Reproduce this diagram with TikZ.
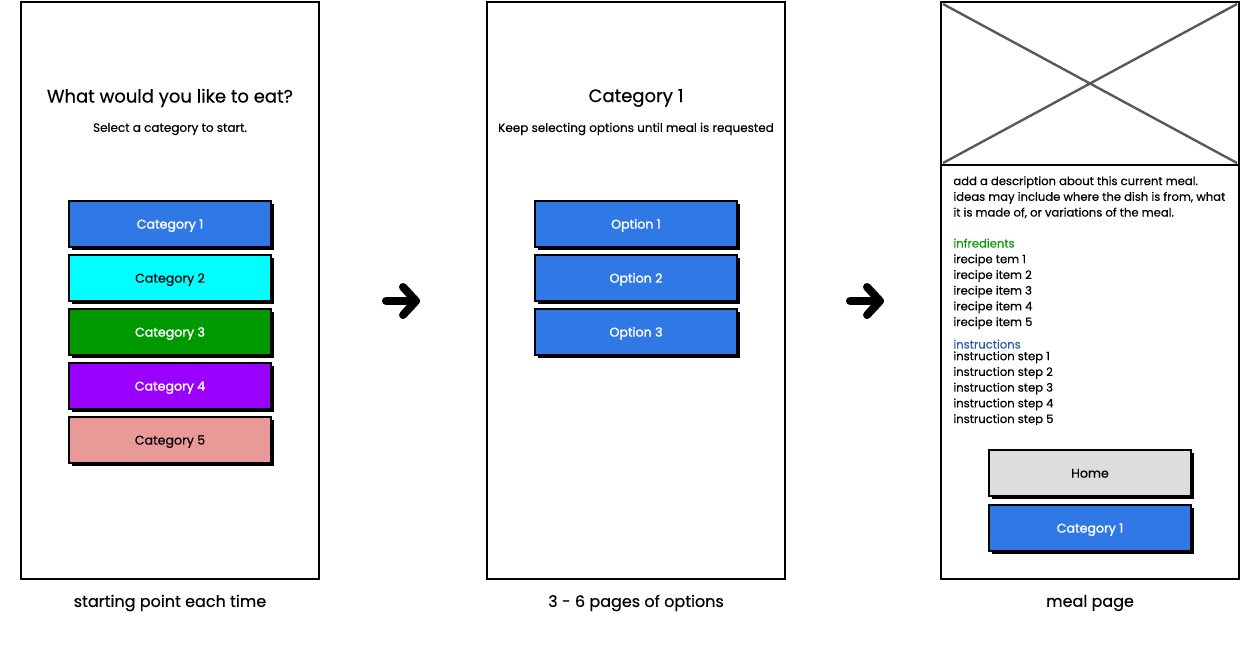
\documentclass[tikz,border=0pt]{standalone}
\usepackage{fontspec}
\setmainfont{Poppins}[FakeBold=0.4]
\usetikzlibrary{positioning,shadows,arrows.meta}
\definecolor{btnblue}{HTML}{2F78E5}
\definecolor{btncyan}{HTML}{00FFFF}
\definecolor{btngreen}{HTML}{009900}
\definecolor{btnpurple}{HTML}{9900FF}
\definecolor{btnpink}{HTML}{EA9999}
\definecolor{btngray}{HTML}{DDDDDD}
\definecolor{xgray}{HTML}{595959}
\definecolor{ingreen}{HTML}{0A9A0A}
\definecolor{inblue}{HTML}{2A5BA8}
\tikzset{
  screen/.style={draw,line width=1pt,minimum width=149pt,minimum height=288.5pt,inner sep=0pt},
  button/.style={draw,line width=0.9pt,minimum width=101pt,minimum height=23pt,inner sep=0pt,
    font=\fontsize{6.3}{8}\selectfont,text height=4.6pt,text depth=0pt,
    drop shadow={shadow xshift=1.6pt,shadow yshift=-1.6pt,opacity=1,fill=black}},
  lightbutton/.style={button,text=white,font=\fontsize{6.3}{8}\selectfont\addfontfeatures{FakeBold=1.6}},
  headline/.style={font=\fontsize{9}{11}\selectfont},
  subline/.style={font=\fontsize{6}{7}\selectfont},
  caption/.style={font=\fontsize{8}{10}\selectfont},
  body/.style={font=\fontsize{5.8}{7.85}\selectfont,align=left,anchor=base west,inner sep=0pt},
  chevron/.style={line width=4pt,line cap=round,line join=round}
}
\begin{document}
\begin{tikzpicture}[x=0.5pt,y=-0.5pt]
\useasboundingbox (0,0) rectangle (1240,669);
% three screens
\node[screen] (start) at (170,290.5) {};
\node[screen] (options) at (636,290.5) {};
\node[screen] (meal) at (1090,290.5) {};
\node[caption] (startcap) at (170,603) {starting point each time};
\node[caption] (optionscap) at (636,603) {3 - 6 pages of options};
\node[caption] (mealcap) at (1090,603) {meal page};
% start screen
\node[headline] (starttitle) at (170,98) {What would you like to eat?};
\node[subline] (startsub) at (170,129) {Select a category to start.};
\foreach \i/\col/\look in {1/btnblue/lightbutton,2/btncyan/button,3/btngreen/lightbutton,4/btnpurple/lightbutton,5/btnpink/button}
  \node[\look,fill=\col] (cat\i) at (170,{224+54*(\i-1)}) {Category \i};
% options screen
\node[headline] (optionstitle) at (636,98) {Category 1};
\node[subline] (optionssub) at (636,129) {Keep selecting options until meal is requested};
\foreach \i in {1,2,3}
  \node[lightbutton,fill=btnblue] (opt\i) at (636,{224+54*(\i-1)}) {Option \i};
% meal screen
\draw[line width=1pt] (941,2) rectangle (1239,165);
\draw[xgray,line width=1.2pt] (943,4) -- (1237,163) (1237,4) -- (943,163);
\node[body] (mealdesc) at (953,216.5) {add a description about this current meal.\\ideas may include where the dish is from, what\\it is made of, or variations of the meal.};
\node[body] (ingred) at (953,326) {\textcolor{ingreen}{infredients}\\irecipe tem 1\\irecipe item 2\\irecipe item 3\\irecipe item 4\\irecipe item 5};
\begin{scope}
  \clip (945,330) rectangle (1235,424.5);
  \node[body] (instr) at (953,423) {\textcolor{inblue}{instructions}\\[-2pt]instruction step 1\\instruction step 2\\instruction step 3\\instruction step 4\\instruction step 5};
\end{scope}
\node[button,fill=btngray] (home) at (1090,473) {Home};
\node[lightbutton,fill=btnblue] (mealcat) at (1090,528) {Category 1};
% arrows between screens
\foreach \dx in {0,464} {
  \draw[chevron] (386+\dx,301) -- (416+\dx,301);
  \draw[chevron] (403+\dx,287) -- (416+\dx,301) -- (403+\dx,315);
}
\end{tikzpicture}
\end{document}
